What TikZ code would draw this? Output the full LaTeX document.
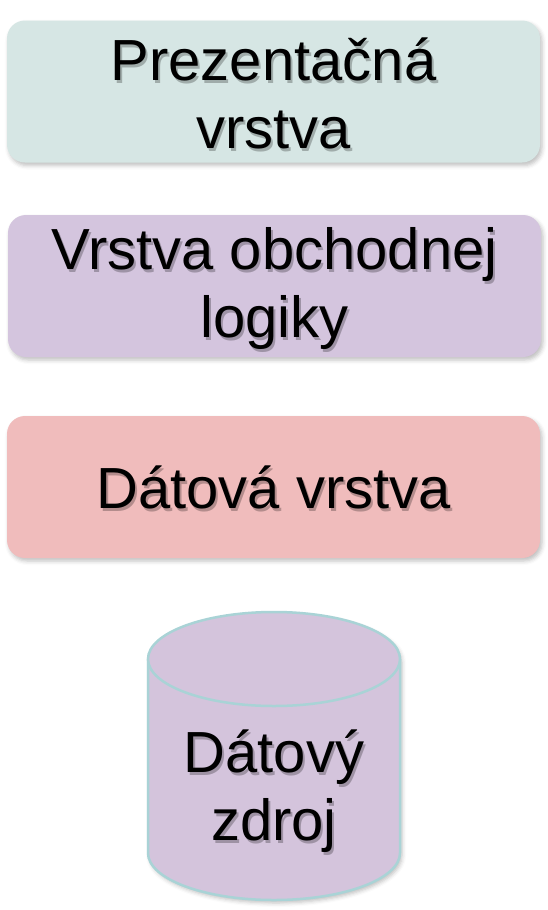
\documentclass[tikz,border=0pt]{standalone}
\usepackage{fontspec}
\setmainfont{Liberation Sans}
\usetikzlibrary{shadows.blur}
\definecolor{cA}{HTML}{D6E6E4}
\definecolor{cB}{HTML}{D4C5DE}
\definecolor{cC}{HTML}{F0BCBC}
\definecolor{cD}{HTML}{D4C4DC}
\definecolor{cEdge}{HTML}{A9D3D6}
\tikzset{
  softshadow/.style={blur shadow={shadow xshift=2pt, shadow yshift=-3pt, shadow blur radius=4pt, shadow opacity=25}},
  layerbox/.style={rounded corners=18pt, minimum width=533pt, minimum height=142pt, inner sep=0pt, softshadow},
  lbl/.style={font=\fontsize{58}{68}\selectfont, align=center, text=black, inner sep=0pt},
  lblshadow/.style={lbl, text=black, opacity=0.25},
}
\newcommand{\shadowtext}[3]{%
  \node[lblshadow] at ([xshift=2pt,yshift=-3pt]#1) {#3};
  \node[lbl] (#2) at (#1) {#3};}
\begin{document}
\begin{tikzpicture}[x=1pt,y=1pt]
\useasboundingbox (0,0) rectangle (547,-910);
\node[layerbox, fill=cA] (b1) at (273.5,-91.5) {};
\node[layerbox, fill=cB] (b2) at (274.5,-286) {};
\node[layerbox, fill=cC] (b3) at (273.5,-487) {};
% cylinder
\fill[cD, softshadow]
  (148,-659) -- (148,-853) arc[start angle=180, end angle=360, x radius=126, y radius=47] -- (400,-659)
  arc[start angle=0, end angle=180, x radius=126, y radius=47] -- cycle;
\draw[cEdge, line width=2.5pt]
  (148,-659) -- (148,-853) arc[start angle=180, end angle=360, x radius=126, y radius=47] -- (400,-659);
\draw[cEdge, line width=2.5pt, fill=cD] (274,-659) ellipse[x radius=126, y radius=47];
\coordinate (t1) at (273.5,-93);
\coordinate (t2) at (274.5,-288);
\coordinate (t3) at (273.5,-487);
\coordinate (t4) at (274,-791);
\shadowtext{t1}{l1}{Prezentačná\\vrstva}
\shadowtext{t2}{l2}{Vrstva obchodnej\\logiky}
\shadowtext{t3}{l3}{Dátová vrstva}
\shadowtext{t4}{l4}{Dátový\\zdroj}
\end{tikzpicture}
\end{document}
